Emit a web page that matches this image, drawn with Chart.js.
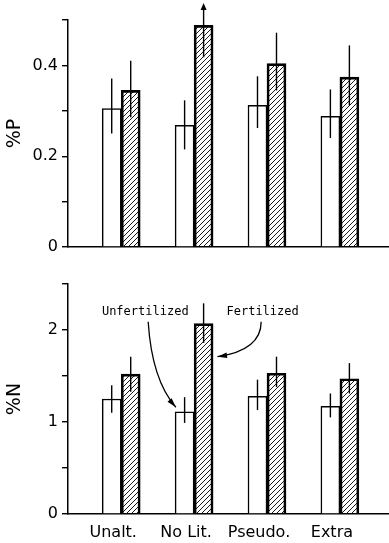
<!DOCTYPE html>
<html>
<head>
<meta charset="utf-8">
<script src="https://cdn.jsdelivr.net/npm/chart.js@4"></script>
<style>
  html, body { margin: 0; padding: 0; background: #fff; }
  #top { position: absolute; left: 0; top: 0; width: 389px; height: 265px; }
  #bottom { position: absolute; left: 0; top: 265px; width: 389px; height: 278px; }
</style>
</head>
<body>
<div id="top"><canvas id="pChart"></canvas></div>
<div id="bottom"><canvas id="nChart"></canvas></div>
<script>
// categories (treatments)
const categories = ['Unalt.', 'No Lit.', 'Pseudo.', 'Extra'];
const catPos = [1, 2, 3, 4];

// %P
const pUnfert = [0.305, 0.268, 0.312, 0.288];
const pUnfertLo = [0.250, 0.215, 0.262, 0.240];
const pUnfertHi = [0.371, 0.323, 0.376, 0.347];
const pFert = [0.345, 0.488, 0.404, 0.374];
const pFertLo = [0.286, 0.418, 0.345, 0.312];
const pFertHi = [0.410, 0.522, 0.472, 0.444];

// %N
const nUnfert = [1.25, 1.11, 1.28, 1.17];
const nUnfertLo = [1.10, 0.99, 1.13, 1.05];
const nUnfertHi = [1.40, 1.27, 1.46, 1.31];
const nFert = [1.52, 2.07, 1.53, 1.47];
const nFertLo = [1.33, 1.86, 1.38, 1.31];
const nFertHi = [1.71, 2.29, 1.71, 1.64];

// hatch pattern for fertilized bars
function makeHatch() {
  const c = document.createElement('canvas');
  c.width = 5; c.height = 5;
  const g = c.getContext('2d');
  g.strokeStyle = '#000';
  g.lineWidth = 0.9;
  g.beginPath();
  g.moveTo(0, 5); g.lineTo(5, 0);
  g.moveTo(-1, 1); g.lineTo(1, -1);
  g.moveTo(4, 6); g.lineTo(6, 4);
  g.stroke();
  return g.createPattern(c, 'repeat');
}
const hatch = makeHatch();

function pts(vals) {
  return vals.map((v, i) => ({ x: catPos[i], y: v }));
}

// vertical error lines (arrow if it runs past the axis top)
const errorBars = {
  id: 'errorBars',
  afterDatasetsDraw(chart) {
    const ctx = chart.ctx;
    const ys = chart.scales.y;
    ctx.save();
    ctx.strokeStyle = '#000';
    ctx.fillStyle = '#000';
    ctx.lineWidth = 1.4;
    chart.data.datasets.forEach((ds, di) => {
      const meta = chart.getDatasetMeta(di);
      meta.data.forEach((bar, i) => {
        const y1 = ys.getPixelForValue(ds.errLo[i]);
        const y2 = ys.getPixelForValue(ds.errHi[i]);
        ctx.beginPath();
        ctx.moveTo(bar.x, y1);
        ctx.lineTo(bar.x, y2);
        ctx.stroke();
        if (ds.errHi[i] > ys.max) {
          ctx.beginPath();
          ctx.moveTo(bar.x, y2 - 7);
          ctx.lineTo(bar.x - 3, y2);
          ctx.lineTo(bar.x + 3, y2);
          ctx.closePath();
          ctx.fill();
        }
      });
    });
    ctx.restore();
  }
};

// labels with curved arrows pointing at the No Lit. bars
const notes = {
  id: 'notes',
  afterDraw(chart) {
    if (!chart.options.plugins.notes) return;
    const ctx = chart.ctx;
    const xs = chart.scales.x, ys = chart.scales.y;
    const X = v => xs.getPixelForValue(v), Y = v => ys.getPixelForValue(v);
    ctx.save();
    ctx.font = '12px "DejaVu Sans Mono"';
    ctx.fillStyle = '#000';
    ctx.textAlign = 'center';
    ctx.textBaseline = 'middle';
    ctx.fillText('Unfertilized', X(1.33), Y(2.2));
    ctx.fillText('Fertilized', X(2.94), Y(2.2));

    function arrow(x0, y0, cx, cy, x1, y1) {
      ctx.beginPath();
      ctx.moveTo(x0, y0);
      ctx.quadraticCurveTo(cx, cy, x1, y1);
      ctx.lineWidth = 1.3;
      ctx.strokeStyle = '#000';
      ctx.stroke();
      const a = Math.atan2(y1 - cy, x1 - cx);
      ctx.beginPath();
      ctx.moveTo(x1, y1);
      ctx.lineTo(x1 - 10 * Math.cos(a - 0.28), y1 - 10 * Math.sin(a - 0.28));
      ctx.lineTo(x1 - 10 * Math.cos(a + 0.28), y1 - 10 * Math.sin(a + 0.28));
      ctx.closePath();
      ctx.fill();
    }
    arrow(X(1.37), Y(2.09), X(1.42), Y(1.46), X(1.75), Y(1.16));
    arrow(X(2.92), Y(2.09), X(2.92), Y(1.78), X(2.32), Y(1.71));
    ctx.restore();
  }
};

function makeChart(canvasId, unf, unfLo, unfHi, fer, ferLo, ferHi, yMax, step, title, showX, padTop, xHeight) {
  return new Chart(document.getElementById(canvasId), {
    type: 'bar',
    data: {
      datasets: [{
        label: 'Unfertilized',
        data: pts(unf),
        errLo: unfLo,
        errHi: unfHi,
        backgroundColor: '#fff',
        borderColor: '#000',
        borderWidth: 1.5,
        barThickness: 19
      }, {
        label: 'Fertilized',
        data: pts(fer),
        errLo: ferLo,
        errHi: ferHi,
        backgroundColor: hatch,
        borderColor: '#000',
        borderWidth: 2,
        barThickness: 19
      }]
    },
    options: {
      responsive: true,
      maintainAspectRatio: false,
      animation: false,
      layout: { padding: { top: padTop, right: 1, left: 0, bottom: 0 } },
      plugins: {
        legend: { display: false },
        tooltip: { enabled: false },
        notes: showX
      },
      scales: {
        x: {
          type: 'linear',
          offset: false,
          min: 0.27,
          max: 4.66,
          afterBuildTicks: s => { s.ticks = catPos.map(v => ({ value: v })); },
          afterFit: s => { s.height = xHeight; },
          grid: { display: false, drawTicks: false },
          border: { display: true, color: '#000', width: 1.5 },
          ticks: {
            display: showX,
            padding: 9,
            labelOffset: -8,
            color: '#000',
            font: { family: '"DejaVu Sans"', size: 16 },
            callback: v => categories[catPos.indexOf(v)]
          }
        },
        y: {
          min: 0,
          max: yMax,
          afterFit: s => { s.width = 68; },
          grid: { drawOnChartArea: false, drawTicks: true, tickLength: 6, color: '#000', lineWidth: 1.4 },
          border: { display: true, color: '#000', width: 1.5 },
          ticks: {
            stepSize: step,
            padding: 4,
            color: '#000',
            font: { family: '"DejaVu Sans"', size: 16 },
            callback: v => {
              const k = Math.round(v / step);
              if (k % 2 !== 0) return '';
              return step < 0.5 ? (k === 0 ? '0' : (k * step).toFixed(1)) : String(k * step);
            }
          },
          title: {
            display: true,
            text: title,
            color: '#000',
            padding: { top: 4, bottom: 0 },
            font: { family: '"DejaVu Sans"', size: 19 }
          }
        }
      }
    },
    plugins: [errorBars, notes]
  });
}

makeChart('pChart', pUnfert, pUnfertLo, pUnfertHi, pFert, pFertLo, pFertHi, 0.5, 0.1, '%P', false, 20, 18);
makeChart('nChart', nUnfert, nUnfertLo, nUnfertHi, nFert, nFertLo, nFertHi, 2.5, 0.5, '%N', true, 19, 29);
</script>
</body>
</html>
